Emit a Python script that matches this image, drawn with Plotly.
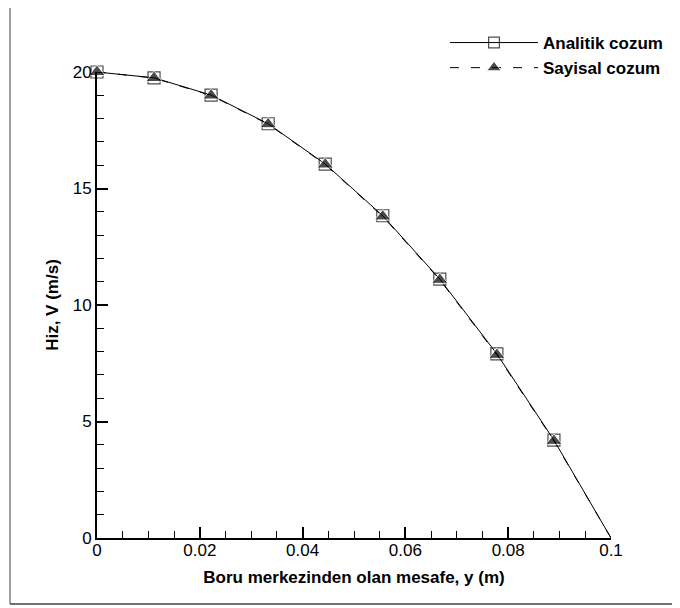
import plotly.graph_objects as go

# ---- data ----
y_pos = [0.0, 0.0111, 0.0222, 0.0333, 0.0444, 0.0556, 0.0667, 0.0778, 0.0889, 0.1]
v_analitik = [20.0, 19.75, 19.01, 17.78, 16.05, 13.83, 11.11, 7.90, 4.20, 0.0]
v_sayisal = [20.0, 19.74, 18.99, 17.76, 16.03, 13.80, 11.08, 7.86, 4.17, 0.0]
x_tickvals = [0, 0.02, 0.04, 0.06, 0.08, 0.1]
x_ticktext = ["0", "0.02", "0.04", "0.06", "0.08", "0.1"]
y_tickvals = [0, 5, 10, 15, 20]
y_ticktext = ["0", "5", "10", "15", "20"]
names = ["Analitik cozum", "Sayisal cozum"]

# page shows the figure with an 8px body offset
OFF = 8
W, H = 680, 608
L, R, T, B = 97 - OFF, 680 - (611 - OFF), 72 - OFF, 608 - (538 - OFF)
pw, ph = W - L - R, H - T - B

def px(x):  # screen px -> paper
    return (x - OFF - L) / pw

def py(y):
    return (H - B - (y - OFF)) / ph

n = len(y_pos)
fig = go.Figure()
fig.add_trace(go.Scatter(
    x=y_pos, y=v_analitik, name=names[0], mode="lines+markers",
    line=dict(color="black", width=1),
    marker=dict(symbol="square-open", size=[12] * (n - 1) + [0], color="black",
                line=dict(width=1.2, color="black")),
    cliponaxis=False,
))
fig.add_trace(go.Scatter(
    x=y_pos, y=v_sayisal, name=names[1], mode="lines+markers",
    line=dict(color="black", width=1, dash="9px,12px"),
    marker=dict(symbol="triangle-up", size=[14] * (n - 1) + [0], color="black"),
    cliponaxis=False,
))

font = "Liberation Sans, Arial, sans-serif"
fig.update_layout(
    width=W, height=H,
    margin=dict(l=L, r=R, t=T, b=B),
    paper_bgcolor="white", plot_bgcolor="white",
    font=dict(family=font, color="black", size=17),
    showlegend=True,
    legend=dict(x=px(445), y=py(25), xanchor="left", yanchor="top",
                itemwidth=88, bgcolor="rgba(0,0,0,0)", tracegroupgap=0,
                font=dict(family=font, size=17, color="black", weight="bold")),
    xaxis=dict(range=[0, 0.1], showgrid=False, zeroline=False,
               showline=True, linecolor="black", linewidth=2,
               ticks="inside", ticklen=11, tickwidth=2, tickcolor="black",
               tickvals=x_tickvals, ticktext=x_ticktext,
               tickfont=dict(size=17), ticklabelstandoff=-4,
               minor=dict(dtick=0.005, ticks="inside", ticklen=7, tickwidth=1,
                          tickcolor="black", showgrid=False),
               title=dict(text="Boru merkezinden olan mesafe, y (m)",
                          font=dict(size=17, weight="bold"), standoff=12)),
    yaxis=dict(range=[0, 20], showgrid=False, zeroline=False,
               showline=True, linecolor="black", linewidth=2,
               ticks="inside", ticklen=11, tickwidth=2, tickcolor="black",
               tickvals=y_tickvals, ticktext=y_ticktext,
               tickfont=dict(size=17),
               minor=dict(dtick=1, ticks="inside", ticklen=7, tickwidth=1,
                          tickcolor="black", showgrid=False),
               title=dict(text="Hiz, V (m/s)",
                          font=dict(size=17, weight="bold"), standoff=10)),
    shapes=[
        dict(type="line", xref="paper", yref="paper",
             x0=px(10), x1=px(10), y0=py(-5), y1=py(604),
             line=dict(color="#a0a0a0", width=2)),
        dict(type="line", xref="paper", yref="paper",
             x0=px(10), x1=px(690), y0=py(604), y1=py(604),
             line=dict(color="#404040", width=1.5)),
    ],
)

fig.write_html("out.html")
